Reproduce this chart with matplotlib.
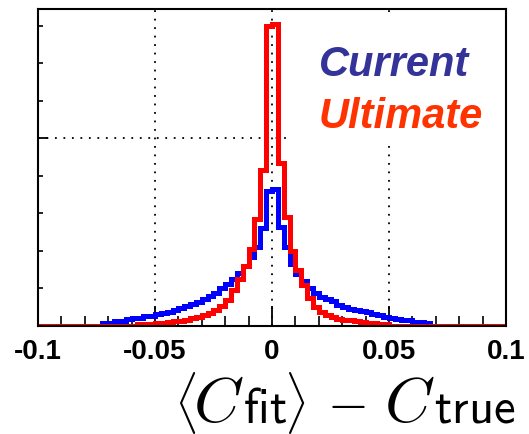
import numpy as np
import matplotlib
matplotlib.use("Agg")
import matplotlib.pyplot as plt
from matplotlib.patches import Rectangle
from matplotlib.ticker import FixedLocator, MultipleLocator

plt.rcParams['mathtext.fontset'] = 'cm'
plt.rcParams['axes.unicode_minus'] = False

# ---- data -------------------------------------------------------------
bin_lo, bin_hi, n_bins = -0.1, 0.1, 80

current = [
    0, 0, 0, 0, 0, 0, 0, 0, 0, 0,
    0, 0.015, 0.015, 0.028, 0.028, 0.035, 0.045, 0.045, 0.055, 0.055,
    0.062, 0.068, 0.076, 0.085, 0.095, 0.105, 0.118, 0.13, 0.145, 0.16,
    0.178, 0.20, 0.222, 0.25, 0.28, 0.32, 0.37, 0.42, 0.52, 0.72,
    0.73, 0.53, 0.42, 0.33, 0.275, 0.238, 0.20, 0.176, 0.155, 0.145,
    0.132, 0.11, 0.10, 0.09, 0.085, 0.078, 0.072, 0.064, 0.058, 0.048,
    0.045, 0.036, 0.034, 0.032, 0.022, 0.02, 0.018, 0, 0, 0,
    0, 0, 0, 0, 0, 0, 0, 0, 0, 0,
]

ultimate = [
    0.002, 0.002, 0.002, 0.002, 0.002, 0.002, 0.002, 0.002, 0.002, 0.002,
    0.002, 0.002, 0.002, 0.002, 0.002, 0.002, 0.002, 0.008, 0.010, 0.012,
    0.015, 0.018, 0.022, 0.025, 0.029, 0.034, 0.040, 0.048, 0.058, 0.070,
    0.085, 0.105, 0.14, 0.19, 0.25, 0.32, 0.41, 0.57, 0.83, 1.60,
    1.612, 0.87, 0.58, 0.40, 0.30, 0.22, 0.15, 0.10, 0.075, 0.058,
    0.048, 0.038, 0.032, 0.030, 0.027, 0.020, 0.017, 0.014, 0.011, 0.008,
    0.002, 0.002, 0.002, 0.002, 0.002, 0.002, 0.002, 0.002, 0.002, 0.002,
    0.002, 0.002, 0.002, 0.002, 0.002, 0.002, 0.002, 0.002, 0.002, 0.002,
]

xticks = [-0.1, -0.05, 0, 0.05, 0.1]
xtick_labels = ["-0.1", "-0.05", "0", "0.05", "0.1"]
names = ["Current", "Ultimate"]

# ---- figure -----------------------------------------------------------
W, H = 529, 435
fig = plt.figure(figsize=(W / 100, H / 100), dpi=100)
ax = fig.add_axes([38 / W, 1 - 327 / H, (506 - 38) / W, (327 - 10) / H])

edges = np.linspace(bin_lo, bin_hi, n_bins + 1)
ax.stairs(current, edges, color='#0000ff', linewidth=3.6, zorder=2, baseline=0)
ax.stairs(ultimate, edges, color='#ff0000', linewidth=3.6, zorder=3, baseline=0)

ax.set_xlim(bin_lo, bin_hi)
ax.set_ylim(0, 1.69)

# grid (dotted) only at inner major ticks
ax.set_axisbelow(True)
for gx in xticks[1:-1]:
    ax.axvline(gx, color='black', linewidth=1.3, linestyle=(0, (1, 3.7)), zorder=0.5)
ax.axhline(1.0, color='black', linewidth=1.3, linestyle=(0, (1, 3.7)), zorder=0.5)

# white legend pad hiding the grid
ax.add_patch(Rectangle((0.538, 0.571), 0.462, 0.401, transform=ax.transAxes,
                       facecolor='white', edgecolor='none', zorder=1))

# ticks
ax.xaxis.set_major_locator(FixedLocator(xticks))
ax.set_xticklabels(xtick_labels, fontfamily='Liberation Sans', fontweight='bold', fontsize=20)
ax.xaxis.set_minor_locator(MultipleLocator(0.01))
ax.yaxis.set_major_locator(MultipleLocator(1.0))
ax.yaxis.set_minor_locator(MultipleLocator(0.2))
ax.tick_params(axis='x', which='major', direction='in', length=14.4, width=1.3, pad=9,
               top=False)
ax.tick_params(axis='x', which='minor', direction='in', length=7, width=1.2, top=False)
ax.tick_params(axis='y', which='major', direction='in', length=7.2, width=1.3,
               labelleft=False, right=False)
ax.tick_params(axis='y', which='minor', direction='in', length=3.6, width=1.2, right=False)

for s in ax.spines.values():
    s.set_linewidth(1.5)
    s.set_zorder(4)

# legend text
fig.text(319 / W, 1 - 76 / H, names[0], color='#333399', fontfamily='Liberation Sans',
         fontweight='bold', fontstyle='italic', fontsize=30, va='baseline', ha='left')
fig.text(319 / W, 1 - 128 / H, names[1], color='#ff3300', fontfamily='Liberation Sans',
         fontweight='bold', fontstyle='italic', fontsize=30, va='baseline', ha='left')

# axis title  <C_fit> - C_true, composed piecewise to match the reference proportions
title_pieces = [
    (r'$\langle$', 174, 422, 37),
    (r'$C$', 193, 422, 46),
    (r'$\mathsf{fit}$', 243, 423, 35),
    (r'$\rangle$', 284, 422, 37),
    (r'$-$', 327, 418, 38),
    (r'$C$', 384, 422, 46),
    (r'$\mathsf{true}$', 434, 423, 35),
]
for txt, px, py, fs in title_pieces:
    fig.text(px / W, 1 - py / H, txt, fontsize=fs, ha='left', va='baseline')

fig.savefig('out.png', dpi=100)
